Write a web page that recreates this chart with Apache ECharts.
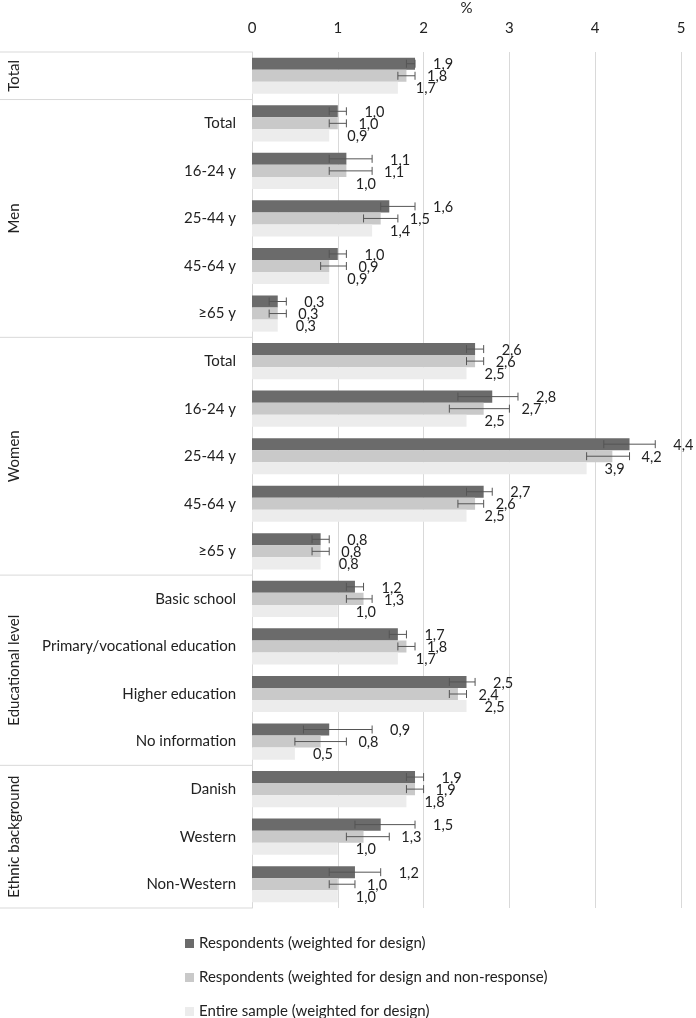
<!DOCTYPE html>
<html>
<head>
<meta charset="utf-8">
<script src="https://cdn.jsdelivr.net/npm/echarts@6/dist/echarts.min.js"></script>
<style>html,body{margin:0;padding:0;background:#fff}#c{width:696px;height:1018px}</style>
</head>
<body>
<div id="c"></div>
<script>
const categories = ['', 'Total', '16-24 y', '25-44 y', '45-64 y', '≥65 y', 'Total', '16-24 y', '25-44 y', '45-64 y', '≥65 y', 'Basic school', 'Primary/vocational education', 'Higher education', 'No information', 'Danish', 'Western', 'Non-Western'];
const groupNames = ['Total', 'Men', 'Women', 'Educational level', 'Ethnic background'];
const groupOf = [0, 1, 1, 1, 1, 1, 2, 2, 2, 2, 2, 3, 3, 3, 3, 4, 4, 4];
const seriesNames = ['Respondents (weighted for design)', 'Respondents (weighted for design and non-response)', 'Entire sample (weighted for design)'];
const xTicks = [0, 1, 2, 3, 4, 5];

const design   = [1.9, 1.0, 1.1, 1.6, 1.0, 0.3, 2.6, 2.8, 4.4, 2.7, 0.8, 1.2, 1.7, 2.5, 0.9, 1.9, 1.5, 1.2];
const designLo = [1.8, 0.9, 0.9, 1.5, 0.9, 0.2, 2.5, 2.4, 4.1, 2.5, 0.7, 1.1, 1.6, 2.3, 0.6, 1.8, 1.2, 0.9];
const designHi = [1.9, 1.1, 1.4, 1.9, 1.1, 0.4, 2.7, 3.1, 4.7, 2.8, 0.9, 1.3, 1.8, 2.6, 1.4, 2.0, 1.9, 1.5];
const nonresp   = [1.8, 1.0, 1.1, 1.5, 0.9, 0.3, 2.6, 2.7, 4.2, 2.6, 0.8, 1.3, 1.8, 2.4, 0.8, 1.9, 1.3, 1.0];
const nonrespLo = [1.7, 0.9, 0.9, 1.3, 0.8, 0.2, 2.5, 2.3, 3.9, 2.4, 0.7, 1.1, 1.7, 2.3, 0.5, 1.8, 1.1, 0.9];
const nonrespHi = [1.9, 1.1, 1.4, 1.7, 1.1, 0.4, 2.7, 3.0, 4.4, 2.7, 0.9, 1.4, 1.9, 2.5, 1.1, 2.0, 1.6, 1.2];
const entire    = [1.7, 0.9, 1.0, 1.4, 0.9, 0.3, 2.5, 2.5, 3.9, 2.5, 0.8, 1.0, 1.7, 2.5, 0.5, 1.8, 1.0, 1.0];

const colors = ['#6b6b6b', '#c9c9c9', '#ececec'];
const FONT = 'Lato, "Open Sans", sans-serif';
const CAT_GAP = 0.24;

// group spans built from groupOf
const groupSpans = groupNames.map((g, gi) => {
  const idx = groupOf.map((v, i) => v === gi ? i : -1).filter(i => i >= 0);
  return [gi, idx[0], idx[idx.length - 1]];
});

function fmt(v) { return v.toFixed(1).replace('.', ','); }

function errLabelRender(k, dx) {
  return function (params, api) {
    const idx = api.value(0), v = api.value(1), lo = api.value(2), hi = api.value(3);
    const band = api.size([0, 1])[1];
    const barH = band * (1 - CAT_GAP) / 3;
    const base = api.coord([0, idx]);
    const yc = base[1] + (k - 1) * barH;
    const children = [];
    const hasErr = !isNaN(lo) && !isNaN(hi) && lo !== null;
    let end = v;
    if (hasErr) {
      const x1 = api.coord([lo, idx])[0], x2 = api.coord([hi, idx])[0];
      const st = { stroke: '#555', lineWidth: 1 };
      children.push({ type: 'line', shape: { x1: x1, y1: yc, x2: x2, y2: yc }, style: st });
      children.push({ type: 'line', shape: { x1: x1, y1: yc - 4, x2: x1, y2: yc + 4 }, style: st });
      children.push({ type: 'line', shape: { x1: x2, y1: yc - 4, x2: x2, y2: yc + 4 }, style: st });
      end = Math.max(v, hi);
    }
    const lx = api.coord([end, idx])[0] + dx;
    children.push({
      type: 'text', x: lx, y: yc + 1,
      style: { text: fmt(v), align: 'left', verticalAlign: 'middle', fill: '#222', font: '14.5px ' + FONT }
    });
    return { type: 'group', children: children };
  };
}

function groupRender(params, api) {
  const gi = api.value(0), s = api.value(1), e = api.value(2);
  const band = api.size([0, 1])[1];
  const left = api.coord([0, s])[0];
  const top = api.coord([0, s])[1] - band / 2;
  const bottom = api.coord([0, e])[1] + band / 2;
  const st = { stroke: '#d9d9d9', lineWidth: 1 };
  const children = [
    { type: 'line', shape: { x1: 0, y1: top, x2: left, y2: top }, style: st },
    {
      type: 'text', x: 14, y: (top + bottom) / 2, rotation: Math.PI / 2,
      style: { text: groupNames[gi], align: 'center', verticalAlign: 'middle', fill: '#222', font: '15px ' + FONT }
    }
  ];
  if (gi === groupNames.length - 1) {
    children.push({ type: 'line', shape: { x1: 0, y1: bottom, x2: left, y2: bottom }, style: st });
  }
  return { type: 'group', children: children };
}

const values = [design, nonresp, entire];
const los = [designLo, nonrespLo, null];
const his = [designHi, nonrespHi, null];
const dxs = [18, 12, 18];

const series = [];
values.forEach((arr, k) => {
  series.push({
    type: 'bar', name: seriesNames[k], data: arr,
    barGap: '0%', barCategoryGap: (CAT_GAP * 100) + '%',
    itemStyle: { color: colors[k] }, silent: true
  });
});
values.forEach((arr, k) => {
  series.push({
    type: 'custom', name: 'err' + k, silent: true, z: 5,
    renderItem: errLabelRender(k, dxs[k]),
    encode: { y: 0, x: 1 },
    data: arr.map((v, i) => [i, v, los[k] ? los[k][i] : NaN, his[k] ? his[k][i] : NaN])
  });
});
series.push({
  type: 'custom', name: 'groups', silent: true, z: 5,
  renderItem: groupRender, encode: { y: 1, x: 0 },
  data: groupSpans.map(g => [g[0], g[1], g[2]])
});

const chart = echarts.init(document.getElementById('c'), null, { renderer: 'canvas' });
chart.setOption({
  animation: false,
  textStyle: { fontFamily: FONT },
  grid: { left: 252, right: 15, top: 52, bottom: 110, containLabel: false, outerBoundsMode: 'none' },
  legend: {
    data: seriesNames, orient: 'vertical', left: 180, bottom: -6,
    itemWidth: 9, itemHeight: 9, itemGap: 19, icon: 'rect',
    textStyle: { fontSize: 15, color: '#222', fontFamily: FONT }
  },
  xAxis: {
    type: 'value', position: 'top', min: xTicks[0], max: xTicks[xTicks.length - 1], interval: 1,
    name: '%', nameLocation: 'middle', nameGap: 33,
    nameTextStyle: { fontSize: 15, color: '#222', fontFamily: FONT },
    axisLine: { show: false }, axisTick: { show: false },
    axisLabel: { fontSize: 15, color: '#222', margin: 16, fontFamily: FONT },
    splitLine: { lineStyle: { color: '#d9d9d9', width: 1 } }
  },
  yAxis: {
    type: 'category', inverse: true, data: categories,
    axisLine: { show: true, lineStyle: { color: '#d9d9d9' } },
    axisTick: { show: false },
    axisLabel: { fontSize: 15, color: '#222', margin: 16, fontFamily: FONT, interval: 0 }
  },
  series: series
});
</script>
</body>
</html>
